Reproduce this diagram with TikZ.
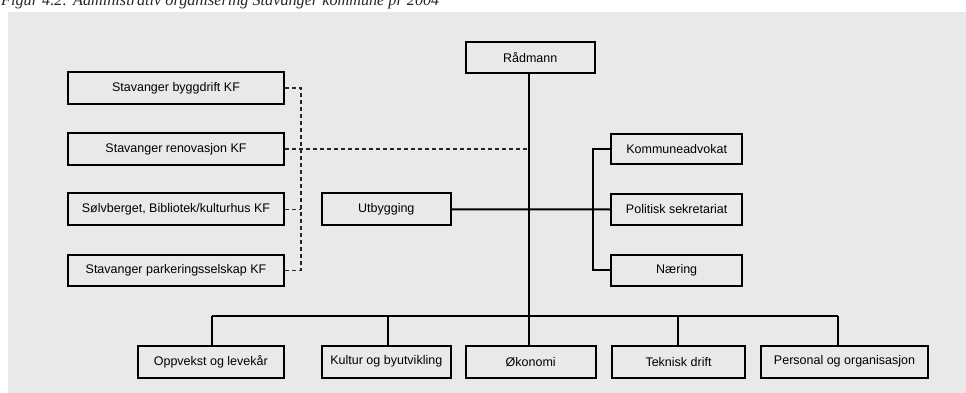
\documentclass[tikz,border=0pt]{standalone}
\usepackage{fontspec}
\setmainfont{Liberation Sans}
\newfontfamily\titleserif{Liberation Serif}
\definecolor{bggray}{RGB}{233,233,233}
\begin{document}
\begin{tikzpicture}[x=1pt,y=-1pt,
  box/.style={draw=black, line width=2pt, fill=bggray, rectangle, inner sep=0pt,
    font=\fontsize{12.5}{14}\selectfont, text=black},
  solidline/.style={draw=black, line width=2pt},
  dashline/.style={draw=black!85, line width=1.4pt, dash pattern=on 4pt off 3pt}]
\useasboundingbox (0,0) rectangle (966,393);
\clip (0,0) rectangle (966,393);
\fill[white] (0,0) rectangle (966,393);
\fill[bggray] (8,12) rectangle (966,393);
\node[anchor=base west, inner sep=0pt, font=\titleserif\itshape\fontsize{16.2}{18}\selectfont, text=black!85] (title) at (1,6) {Figur 4.2: Administrativ organisering Stavanger kommune pr 2004};
% left KF boxes
\node[box, minimum width=216pt, minimum height=32pt] (bygg) at (176,88) {Stavanger byggdrift KF};
\node[box, minimum width=216pt, minimum height=32pt] (renov) at (176,149) {Stavanger renovasjon KF};
\node[box, minimum width=216pt, minimum height=32pt] (solv) at (176,209.3) {Sølvberget, Bibliotek/kulturhus KF};
\node[box, minimum width=216pt, minimum height=31.5pt] (park) at (176,270.3) {Stavanger parkeringsselskap KF};
% centre
\node[box, minimum width=129pt, minimum height=30.7pt] (rad) at (530.2,57.3) {Rådmann};
\node[box, minimum width=129.3pt, minimum height=32pt] (utb) at (386.3,209.3) {Utbygging};
% right staff
\node[box, minimum width=131.3pt, minimum height=30pt] (komm) at (676.7,149) {Kommuneadvokat};
\node[box, minimum width=131.3pt, minimum height=31.6pt] (pol) at (676.7,209.5) {Politisk sekretariat};
\node[box, minimum width=131.3pt, minimum height=30.7pt] (naer) at (676.7,270.3) {Næring};
% bottom row
\node[box, minimum width=146.3pt, minimum height=32pt] (opp) at (210.8,361.7) {Oppvekst og levekår};
\node[box, minimum width=129.3pt, minimum height=32pt] (kul) at (386.3,361.7) {Kultur og byutvikling};
\node[box, minimum width=130pt, minimum height=32pt] (oko) at (530.7,361.7) {Økonomi};
\node[box, minimum width=133pt, minimum height=32pt] (tek) at (678.5,361.7) {Teknisk drift};
\node[box, minimum width=167.6pt, minimum height=32pt] (per) at (844.5,361.7) {Personal og organisasjon};
% coordinates
\coordinate (main) at (529,316);
\coordinate (b1) at (212.3,316);
\coordinate (b2) at (388.3,316);
\coordinate (b4) at (678.3,316);
\coordinate (b5) at (838.3,316);
\coordinate (brk) at (593,0);
\coordinate (dv) at (301,0);
% solid lines
\draw[solidline] (rad.south -| main) -- (main);
\draw[solidline] (b1) -- (b5);
\draw[solidline] (b1) -- (b1 |- opp.north);
\draw[solidline] (b2) -- (b2 |- kul.north);
\draw[solidline] (main) -- (main |- oko.north);
\draw[solidline] (b4) -- (b4 |- tek.north);
\draw[solidline] (b5) -- (b5 |- per.north);
\draw[solidline] (utb.east) -- (pol.west);
\draw[solidline] (komm.west) -| (brk |- naer.west) -- (naer.west);
% dashed lines
\draw[dashline] (bygg.east) -| (dv |- park.east) -- (park.east);
\draw[dashline] (solv.east) -- (dv |- solv.east);
\draw[dashline] (renov.east) -- (main |- renov.east);
\end{tikzpicture}
\end{document}
